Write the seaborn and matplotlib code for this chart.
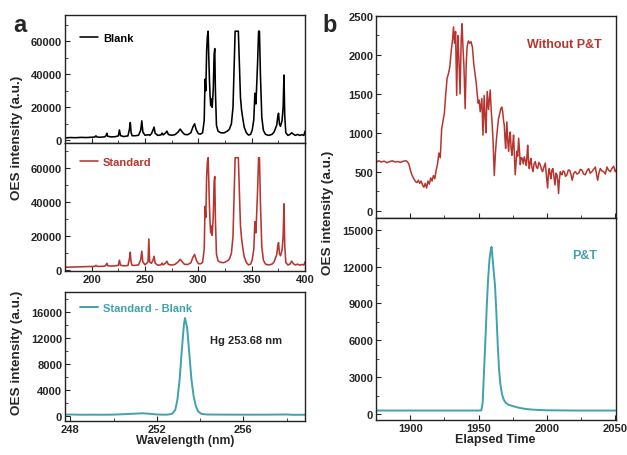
import seaborn as sns
import numpy as np
import matplotlib
matplotlib.use("Agg")
import matplotlib.pyplot as plt
from matplotlib.ticker import AutoMinorLocator
import pandas as pd

# ---- panel a: OES spectra (nm, counts) ----
wl_nm = [175, 180, 185, 190, 195, 200, 203, 204, 205, 208,
         212, 213.5, 214.2, 215, 218, 222, 225, 226, 227, 230,
         234, 235.5, 236.2, 237, 238, 241, 244, 246, 247, 248,
         250, 252.8, 253.6, 254.4, 256, 257.5, 258.5, 259.5, 262, 265,
         266, 267, 269.5, 270.5, 272, 275, 278, 281, 283, 285,
         287, 290, 293, 295, 296.5, 298, 300, 302, 304, 305.5,
         306.3, 307, 307.8, 308.5, 309.2, 309.8, 310.4, 311, 311.6, 312.3,
         313, 314, 314.8, 315.4, 316, 317, 318.5, 321, 324, 327,
         329, 331, 332.5, 333.5, 334.5, 337.5, 338.5, 339.5, 340.5, 341.5,
         343, 345, 347, 349, 350.5, 352, 353, 354, 355.5, 356.5,
         357.3, 358.2, 359.5, 361, 363, 366, 369, 371, 372.5, 373.5,
         374.5, 375.2, 376, 377, 378.5, 379.5, 380.3, 381, 382, 384,
         386, 387.5, 389, 391, 393, 395, 397, 399, 400]

blank_counts = [1500, 1700, 1600, 1800, 1700, 1900, 2000, 2700, 2000, 1900,
                2100, 2800, 4300, 2500, 2100, 2200, 2700, 6300, 2900, 2300,
                2700, 7000, 10800, 4500, 2800, 2800, 3100, 6200, 11800, 5000,
                3100, 3300, 3400, 3000, 4000, 6200, 8000, 4300, 3000, 3300,
                4400, 3300, 4600, 5600, 3500, 3100, 3400, 5000, 6800, 5000,
                3600, 3400, 4600, 8200, 10000, 6400, 4000, 3800, 4600, 12000,
                37000, 30000, 54000, 63000, 66000, 50000, 37000, 27000, 21000, 25000,
                20000, 31000, 52000, 55500, 30000, 9000, 5500, 4600, 4500, 5500,
                6600, 10000, 20000, 42000, 66000, 66000, 46000, 26000, 18500, 14000,
                8000, 4600, 3200, 3600, 6200, 12500, 28500, 22000, 46000, 66000,
                66000, 40000, 14000, 6000, 3600, 3000, 3600, 5000, 7600, 9200,
                14500, 16400, 10000, 8500, 12000, 20000, 39500, 15000, 4600, 3000,
                3600, 4600, 3800, 3000, 3600, 3000, 3400, 3000, 5500]

standard_counts = [1900, 2000, 2100, 2200, 2300, 2400, 2400, 3000, 2400, 2400,
                   2500, 3200, 4200, 2800, 2600, 2700, 3000, 6000, 3100, 2700,
                   2900, 7200, 10700, 4600, 3000, 3000, 3300, 6400, 11300, 5000,
                   3300, 5000, 18500, 5000, 4200, 6000, 8300, 4300, 3100, 3300,
                   4300, 3300, 4400, 5400, 3500, 3200, 3500, 5000, 6500, 5000,
                   3600, 3500, 4500, 7800, 9400, 6200, 4000, 3900, 4700, 12500,
                   37500, 31000, 55000, 63500, 66000, 51000, 38000, 28000, 22000, 26000,
                   20500, 32000, 52000, 55000, 30000, 9500, 5600, 4700, 4600, 5500,
                   6500, 10000, 20000, 42000, 66000, 66000, 46000, 26000, 19000, 14000,
                   8000, 4700, 3300, 3700, 6200, 12500, 28500, 22000, 46000, 66000,
                   66000, 40000, 14000, 6000, 3700, 3200, 3700, 5000, 7600, 9300,
                   14500, 16300, 10000, 8600, 12000, 20000, 39000, 15000, 4700, 3200,
                   3800, 5500, 4000, 3200, 3700, 3100, 3500, 3200, 5000]

diff_nm = [247.7, 248, 248.5, 249, 249.5, 250, 250.5, 251, 251.3, 251.6,
           252, 252.3, 252.5, 252.7, 252.85, 252.95, 253.05, 253.15, 253.25, 253.3,
           253.4, 253.5, 253.6, 253.7, 253.8, 253.9, 254.05, 254.3, 254.6, 255,
           256, 257, 258, 258.3, 258.9]
diff_counts = [150, 200, 160, 170, 160, 180, 250, 330, 380, 330,
               200, 170, 180, 300, 900, 2500, 5500, 10000, 14000, 15000,
               13500, 9500, 5500, 3000, 1500, 700, 300, 200, 190, 180,
               170, 170, 200, 150, 160]

# ---- panel b: transient signals (s, counts) ----
t_raw = [1875, 1877, 1879, 1881, 1883, 1885, 1887, 1889, 1891, 1893,
         1895, 1897, 1898, 1899, 1900, 1901, 1902, 1903, 1904, 1905,
         1906, 1907, 1908, 1909, 1910, 1911, 1912, 1913, 1914, 1915,
         1916, 1917, 1918, 1919, 1920, 1921, 1922, 1923, 1924, 1925,
         1926, 1927, 1928, 1929, 1930, 1931, 1931.7, 1932.4, 1933.2, 1934,
         1934.8, 1935.5, 1936.5, 1937.3, 1937.9, 1938.6, 1939.3, 1940.2, 1941, 1941.6,
         1942.5, 1943.5, 1944.5, 1945.5, 1946.5, 1947.5, 1948.3, 1949, 1949.7, 1950.4,
         1951.2, 1951.8, 1952.4, 1953.2, 1954.1, 1954.8, 1955.4, 1956.3, 1957.3, 1958.5,
         1959.2, 1959.8, 1960.6, 1961.5, 1962.2, 1962.9, 1963.8, 1964.6, 1965.5, 1966.3,
         1967, 1967.6, 1968.3, 1968.8, 1969.4, 1969.8, 1970.3, 1970.7, 1971.3, 1972,
         1972.6, 1973.2, 1973.8, 1974.4, 1975, 1975.6, 1976.2, 1976.8, 1977.4, 1978,
         1978.6, 1979.3, 1980, 1980.5, 1981.2, 1982, 1982.7, 1983.4, 1984.2, 1984.9,
         1985.4, 1985.9, 1986.5, 1987.1, 1987.7, 1988.3, 1989, 1989.8, 1990.6, 1991.5,
         1992.3, 1993.2, 1994.1, 1995.1, 1996, 1996.8, 1997.8, 1998.8, 1999.6, 2000.5,
         2001.1, 2001.7, 2002.3, 2002.9, 2003.6, 2004.4, 2005.2, 2005.9, 2006.6, 2007.3,
         2007.9, 2008.5, 2009.1, 2009.8, 2010.4, 2011, 2011.8, 2012.7, 2013.6, 2014.6,
         2015.6, 2016.6, 2017.5, 2018.5, 2019.6, 2020.7, 2022, 2023.2, 2024.4, 2025.6,
         2026.8, 2028, 2029.2, 2030.5, 2031.7, 2032.9, 2034.1, 2035.4, 2036.2, 2037.1,
         2038, 2039, 2040.2, 2041.5, 2042.7, 2043.9, 2045, 2046.3, 2047.5, 2048.8,
         2050, 2050.5]
raw_counts = [620, 640, 625, 635, 615, 630, 640, 625, 630, 620,
              635, 640, 625, 600, 530, 470, 430, 400, 370, 360,
              390, 350, 380, 330, 300, 350, 290, 380, 340, 420,
              380, 450, 410, 520, 600, 740, 680, 1050, 1150, 1250,
              1500, 1700, 1760, 1850, 2050, 2200, 2360, 2150, 2300, 1480,
              2250, 2000, 1500, 2200, 2400, 2100, 1850, 1310, 1900, 2100,
              2180, 2150, 2170, 2100, 1880, 1750, 1640, 1500, 1380, 1420,
              1270, 1350, 1440, 970, 1480, 1200, 1000, 1530, 1300, 1550,
              1300, 1150, 900, 450, 700, 880, 1050, 1180, 1250, 1310,
              1330, 1280, 1150, 1100, 900, 800, 1000, 1140, 900, 760,
              950, 1010, 800, 710, 850, 970, 700, 460, 620, 760,
              700, 930, 750, 590, 680, 670, 600, 690, 640, 580,
              700, 840, 650, 540, 620, 670, 560, 500, 600, 630,
              560, 540, 620, 590, 530, 500, 560, 610, 450, 290,
              480, 540, 470, 410, 520, 540, 420, 330, 480, 460,
              380, 220, 400, 500, 470, 460, 510, 500, 440, 460,
              520, 520, 470, 390, 480, 500, 470, 480, 530, 520,
              470, 460, 510, 540, 480, 500, 530, 560, 470, 390,
              480, 540, 510, 500, 470, 560, 520, 500, 540, 570,
              500, 520]

t_pt = [1875, 1900, 1940, 1950, 1952, 1953, 1954, 1955, 1956, 1957,
        1958, 1959, 1959.5, 1960, 1961, 1962, 1963, 1964, 1965, 1966,
        1967, 1968, 1969, 1970, 1972, 1975, 1978, 1982, 1986, 1990,
        1995, 2000, 2010, 2020, 2030, 2040, 2050]
pt_counts = [290, 290, 290, 290, 300, 900, 3500, 6000, 8800, 11000,
             12600, 13400, 13600, 13000, 11700, 10500, 8300, 5700, 3600, 2400,
             1700, 1300, 1050, 900, 760, 650, 560, 460, 400, 360,
             330, 310, 300, 290, 290, 290, 290]

RED = "#B8352F"
TEAL = "#3FA2AC"

sns.set_style("ticks")
plt.rcParams["font.family"] = ["Liberation Sans", "DejaVu Sans"]
plt.rcParams["font.weight"] = "bold"
plt.rcParams["axes.linewidth"] = 1.0

W, H = 627, 456
fig = plt.figure(figsize=(W / 100, H / 100), dpi=100)


def box(l, t, r, b):
    return [l / W, 1 - b / H, (r - l) / W, (b - t) / H]


ax1 = fig.add_axes(box(65, 16, 305, 144))
ax2 = fig.add_axes(box(65, 144, 305, 272))
ax3 = fig.add_axes(box(65, 293, 305, 422))
ax4 = fig.add_axes(box(376, 17, 616, 219))
ax5 = fig.add_axes(box(376, 219, 616, 421))

spec = pd.DataFrame({"wl": wl_nm, "Blank": blank_counts, "Standard": standard_counts})
diff = pd.DataFrame({"wl": diff_nm, "val": diff_counts})
raw = pd.DataFrame({"t": t_raw, "val": raw_counts})
pt = pd.DataFrame({"t": t_pt, "val": pt_counts})

sns.lineplot(data=spec, x="wl", y="Blank", color="black", lw=1.15, ax=ax1,
             estimator=None, label="Blank")
sns.lineplot(data=spec, x="wl", y="Standard", color=RED, lw=1.15, ax=ax2,
             estimator=None, label="Standard")
sns.lineplot(data=diff, x="wl", y="val", color=TEAL, lw=1.4, ax=ax3,
             estimator=None, label="Standard - Blank")
sns.lineplot(data=raw, x="t", y="val", color=RED, lw=1.1, ax=ax4, estimator=None)
sns.lineplot(data=pt, x="t", y="val", color=TEAL, lw=1.4, ax=ax5, estimator=None)

for ax in (ax1, ax2, ax3, ax4, ax5):
    ax.set_xlabel("")
    ax.set_ylabel("")
    for s in ax.spines.values():
        s.set_visible(True)
        s.set_linewidth(1.0)
        s.set_color("#222222")
    ax.tick_params(which="both", direction="in", labelsize=8, pad=2)
    ax.tick_params(which="major", length=3.5)
    ax.tick_params(which="minor", length=2)
    for lab in ax.get_xticklabels() + ax.get_yticklabels():
        lab.set_fontweight("bold")

for ax in (ax1, ax2):
    ax.set_xlim(175, 400)
    ax.set_yticks([0, 20000, 40000, 60000])
    ax.yaxis.set_minor_locator(AutoMinorLocator(2))
    ax.set_xticks([200, 250, 300, 350, 400])
    ax.xaxis.set_minor_locator(AutoMinorLocator(2))
ax1.set_ylim(-1600, 75800)
ax2.set_ylim(-300, 74600)
ax1.tick_params(labelbottom=False)

ax3.set_xlim(247.75, 258.85)
ax3.set_ylim(-800, 19000)
ax3.set_xticks([248, 252, 256])
ax3.xaxis.set_minor_locator(AutoMinorLocator(2))
ax3.set_yticks([0, 4000, 8000, 12000, 16000])
ax3.yaxis.set_minor_locator(AutoMinorLocator(2))
ax3.text(254.45, 11600, "Hg 253.68 nm", fontsize=8, fontweight="bold", va="center")

for ax in (ax4, ax5):
    ax.set_xlim(1875, 2050.5)
    ax.set_xticks([1900, 1950, 2000, 2050])
    ax.xaxis.set_minor_locator(AutoMinorLocator(2))
ax4.set_ylim(-95, 2500)
ax4.set_yticks([0, 500, 1000, 1500, 2000, 2500])
ax4.yaxis.set_minor_locator(AutoMinorLocator(2))
ax4.tick_params(labelbottom=False)
ax5.set_ylim(-480, 15950)
ax5.set_yticks([0, 3000, 6000, 9000, 12000, 15000])
ax5.yaxis.set_minor_locator(AutoMinorLocator(2))

ax4.text(0.785, 0.86, "Without P&T", transform=ax4.transAxes, color=RED,
         fontsize=9, fontweight="bold", ha="center", va="center")
ax5.text(0.87, 0.815, "P&T", transform=ax5.transAxes, color=TEAL,
         fontsize=9, fontweight="bold", ha="center", va="center")

for ax, col, yy in ((ax1, "black", 0.92), (ax2, RED, 0.955), (ax3, TEAL, 0.975)):
    ax.legend(loc="upper left", bbox_to_anchor=(0.03, yy), frameon=False,
              handlelength=1.6, handletextpad=0.45, borderaxespad=0.3,
              prop={"size": 8, "weight": "bold"}, labelcolor=col)

lab = dict(fontweight="bold", ha="center", va="center")
fig.text(17 / W, 1 - 138 / H, "OES intensity (a.u.)", rotation=90, fontsize=9.7, **lab)
fig.text(17 / W, 1 - 353 / H, "OES intensity (a.u.)", rotation=90, fontsize=9.7, **lab)
fig.text(328 / W, 1 - 213 / H, "OES intensity (a.u.)", rotation=90, fontsize=9.7, **lab)
fig.text(185 / W, 1 - 441 / H, "Wavelength (nm)", fontsize=8.8, **lab)
fig.text(495 / W, 1 - 440 / H, "Elapsed Time", fontsize=9, **lab)
fig.text(20 / W, 1 - 25 / H, "a", fontsize=17, ha="center", va="center", fontweight="bold")
fig.text(330 / W, 1 - 25 / H, "b", fontsize=17, ha="center", va="center", fontweight="bold")

fig.savefig("out.png", dpi=100)
